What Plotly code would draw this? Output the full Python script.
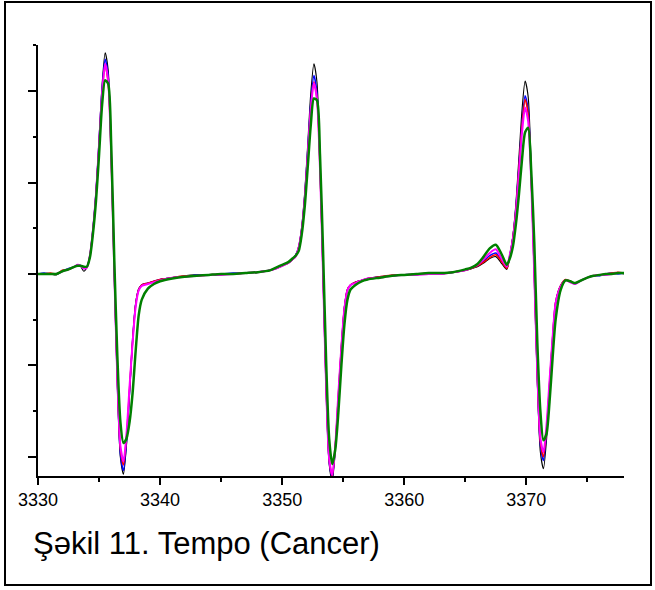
import plotly.graph_objects as go

# Magnetic field (G) sample positions
FIELD = [
    3330.0, 3330.5, 3331.0, 3331.5, 3332.0, 3332.5, 3333.0, 3333.25, 3333.5, 3333.75, 3334.0,
    3334.25, 3334.5, 3334.75, 3335.0, 3335.25, 3335.5, 3335.75, 3336.0, 3336.25, 3336.5, 3336.75, 3337.0, 3337.25, 3337.5, 3337.75, 3338.0, 3338.25, 3338.5,
    3339.0, 3339.5, 3340.0, 3341.0, 3342.0, 3343.0, 3344.0, 3345.0, 3346.0, 3347.0, 3348.0, 3349.0, 3349.5, 3350.0, 3350.5,
    3350.85, 3351.1, 3351.35, 3351.6, 3351.85, 3352.1, 3352.35, 3352.6, 3352.85, 3353.1, 3353.35, 3353.6, 3353.85, 3354.1, 3354.35, 3354.6, 3354.85, 3355.1, 3355.35, 3355.6,
    3356.0, 3356.5, 3357.0, 3358.0, 3359.0, 3360.0, 3361.0, 3362.0, 3363.0, 3364.0, 3365.0, 3365.5, 3366.0, 3366.5, 3367.0, 3367.5, 3368.0, 3368.4,
    3368.65, 3368.9, 3369.15, 3369.4, 3369.65, 3369.9, 3370.15, 3370.4, 3370.65, 3370.9, 3371.15, 3371.4, 3371.65, 3371.9, 3372.15, 3372.4,
    3372.8, 3373.2, 3373.6, 3374.0, 3374.5, 3375.0, 3375.5, 3376.0, 3376.5, 3377.0, 3377.5, 3378.0,
]

BLACK = [
    0.00, 0.00, 0.00, -0.01, 0.03, 0.05, 0.08, 0.10, 0.08, 0.03, 0.07,
    0.20, 0.50, 0.91, 1.48, 2.07, 2.42, 2.23, 1.35, 0.00, -1.21, -2.01, -2.19, -1.87, -1.31, -0.72, -0.32, -0.16, -0.12,
    -0.10, -0.08, -0.06, -0.04, -0.02, -0.01, -0.01, 0.00, 0.00, 0.01, 0.02, 0.04, 0.06, 0.09, 0.12,
    0.16, 0.21, 0.30, 0.52, 0.90, 1.43, 1.99, 2.30, 2.10, 1.27, 0.00, -1.26, -2.08, -2.27, -1.94, -1.36, -0.80, -0.36, -0.17, -0.12,
    -0.09, -0.07, -0.05, -0.03, -0.02, -0.01, 0.00, 0.01, 0.00, 0.02, 0.04, 0.06, 0.08, 0.12, 0.17, 0.19, 0.11, 0.05,
    0.20, 0.42, 0.78, 1.29, 1.80, 2.11, 1.94, 1.17, 0.00, -1.18, -1.95, -2.13, -1.82, -1.28, -0.74, -0.32,
    -0.13, -0.06, -0.08, -0.10, -0.07, -0.04, -0.02, -0.01, 0.00, 0.00, 0.01, 0.00,
]

BLUE = [
    0.00, 0.01, 0.00, 0.00, 0.03, 0.06, 0.08, 0.10, 0.09, 0.06, 0.07,
    0.20, 0.49, 0.89, 1.44, 2.02, 2.35, 2.16, 1.30, 0.02, -1.19, -1.97, -2.15, -1.83, -1.29, -0.72, -0.33, -0.17, -0.12,
    -0.10, -0.08, -0.06, -0.04, -0.03, -0.01, -0.01, 0.00, 0.01, 0.01, 0.02, 0.04, 0.06, 0.09, 0.12,
    0.16, 0.20, 0.29, 0.49, 0.85, 1.36, 1.88, 2.17, 1.98, 1.20, 0.00, -1.24, -2.05, -2.23, -1.90, -1.34, -0.80, -0.37, -0.17, -0.12,
    -0.09, -0.07, -0.05, -0.03, -0.02, -0.01, 0.00, 0.00, 0.01, 0.02, 0.04, 0.06, 0.09, 0.14, 0.20, 0.23, 0.14, 0.07,
    0.21, 0.40, 0.73, 1.19, 1.66, 1.95, 1.79, 1.08, 0.00, -1.13, -1.87, -2.04, -1.74, -1.22, -0.71, -0.31,
    -0.13, -0.07, -0.08, -0.11, -0.07, -0.04, -0.02, -0.02, 0.00, 0.01, 0.00, 0.01,
]

RED = [
    0.00, 0.00, 0.01, 0.00, 0.04, 0.05, 0.08, 0.09, 0.09, 0.07, 0.07,
    0.20, 0.47, 0.86, 1.40, 1.96, 2.28, 2.09, 1.27, 0.02, -1.16, -1.92, -2.09, -1.78, -1.25, -0.74, -0.34, -0.17, -0.12,
    -0.10, -0.08, -0.06, -0.04, -0.02, -0.02, -0.01, 0.00, 0.00, 0.01, 0.02, 0.04, 0.06, 0.09, 0.12,
    0.16, 0.19, 0.29, 0.48, 0.83, 1.31, 1.82, 2.10, 1.92, 1.16, 0.00, -1.23, -2.03, -2.21, -1.88, -1.33, -0.79, -0.37, -0.17, -0.12,
    -0.09, -0.07, -0.05, -0.03, -0.01, -0.01, 0.00, 0.01, 0.01, 0.02, 0.04, 0.06, 0.09, 0.13, 0.18, 0.21, 0.13, 0.06,
    0.20, 0.40, 0.71, 1.17, 1.63, 1.91, 1.75, 1.06, 0.00, -1.11, -1.84, -2.00, -1.71, -1.20, -0.70, -0.31,
    -0.13, -0.06, -0.08, -0.10, -0.07, -0.04, -0.02, -0.01, 0.00, 0.01, 0.02, 0.01,
]

MAGENTA = [
    0.00, 0.00, 0.00, 0.00, 0.03, 0.05, 0.08, 0.10, 0.09, 0.06, 0.07,
    0.20, 0.48, 0.87, 1.41, 1.97, 2.30, 2.11, 1.28, 0.03, -1.14, -1.88, -2.05, -1.75, -1.23, -0.75, -0.36, -0.18, -0.13,
    -0.11, -0.09, -0.07, -0.04, -0.03, -0.02, -0.01, -0.01, 0.00, 0.01, 0.02, 0.04, 0.06, 0.09, 0.12,
    0.16, 0.19, 0.29, 0.48, 0.82, 1.31, 1.81, 2.09, 1.91, 1.15, 0.00, -1.22, -2.02, -2.20, -1.88, -1.32, -0.80, -0.38, -0.18, -0.12,
    -0.10, -0.07, -0.05, -0.04, -0.02, -0.01, -0.01, 0.00, 0.00, 0.02, 0.04, 0.07, 0.10, 0.16, 0.23, 0.27, 0.16, 0.08,
    0.21, 0.38, 0.68, 1.11, 1.55, 1.82, 1.67, 1.01, 0.00, -1.08, -1.79, -1.95, -1.66, -1.17, -0.70, -0.32,
    -0.14, -0.07, -0.09, -0.11, -0.07, -0.04, -0.02, -0.01, -0.01, 0.00, 0.01, 0.01,
]

GREEN = [
    0.00, 0.00, 0.00, 0.00, 0.03, 0.05, 0.08, 0.09, 0.09, 0.08, 0.08,
    0.18, 0.44, 0.80, 1.30, 1.85, 2.12, 2.08, 1.40, 0.15, -0.90, -1.62, -1.85, -1.80, -1.62, -1.30, -0.84, -0.45, -0.28,
    -0.16, -0.11, -0.08, -0.05, -0.03, -0.02, -0.01, 0.00, 0.00, 0.01, 0.02, 0.04, 0.07, 0.10, 0.13,
    0.17, 0.20, 0.25, 0.43, 0.74, 1.18, 1.64, 1.92, 1.90, 1.30, 0.25, -0.95, -1.80, -2.08, -1.92, -1.52, -1.00, -0.55, -0.28, -0.17,
    -0.12, -0.08, -0.06, -0.04, -0.02, -0.01, 0.00, 0.01, 0.01, 0.02, 0.05, 0.07, 0.11, 0.19, 0.28, 0.32, 0.21, 0.10,
    0.17, 0.30, 0.55, 0.88, 1.26, 1.55, 1.60, 1.13, 0.35, -0.75, -1.50, -1.82, -1.75, -1.40, -0.92, -0.50,
    -0.18, -0.07, -0.08, -0.10, -0.07, -0.04, -0.02, -0.01, 0.00, 0.00, 0.01, 0.01,
]

X_TICKS = [3330, 3340, 3350, 3360, 3370]
X_TICK_LABELS = ["3330", "3340", "3350", "3360", "3370"]
CAPTION = "Şəkil 11. Tempo (Cancer)"

SERIES = [
    ("black", BLACK, "#000000", 1.1),
    ("blue", BLUE, "#0000FF", 1.5),
    ("red", RED, "#FF0000", 1.5),
    ("magenta", MAGENTA, "#FF00FF", 2.0),
    ("green", GREEN, "#008000", 2.5),
]

fig = go.Figure()
for name, ys, color, w in SERIES:
    assert len(ys) == len(FIELD), name
    fig.add_trace(go.Scatter(
        x=FIELD, y=ys, mode="lines", name=name,
        line=dict(color=color, width=w, shape="spline", smoothing=0.7),
        hoverinfo="skip",
    ))

FONT = "Arial, 'Liberation Sans', sans-serif"

fig.update_layout(
    width=655, height=590,
    margin=dict(l=38, r=31, t=45, b=114),
    paper_bgcolor="white", plot_bgcolor="white",
    showlegend=False,
    font=dict(family=FONT, color="black"),
    xaxis=dict(
        range=[3330, 3378], showgrid=False, zeroline=False,
        showline=True, linecolor="black", linewidth=1.5,
        tickmode="array", tickvals=X_TICKS, ticktext=X_TICK_LABELS,
        ticks="outside", ticklen=7, tickwidth=1.5, tickcolor="black",
        tickfont=dict(size=18, family=FONT, color="black"),
        minor=dict(tickvals=[3335, 3345, 3355, 3365, 3375], ticks="outside",
                   ticklen=4, tickwidth=1.5, tickcolor="black"),
    ),
    yaxis=dict(
        range=[-2.21, 2.505], showgrid=False, zeroline=False,
        showline=True, linecolor="black", linewidth=1.5,
        tickmode="array", tickvals=[-2, -1, 0, 1, 2],
        showticklabels=False,
        ticks="outside", ticklen=8, tickwidth=1.5, tickcolor="black",
        minor=dict(tickvals=[-1.5, -0.5, 0.5, 1.5, 2.5], ticks="outside",
                   ticklen=3, tickwidth=1.5, tickcolor="black"),
    ),
    shapes=[dict(
        type="rect", xref="paper", yref="paper",
        x0=(5 - 38) / 586, x1=(651 - 38) / 586,
        y0=(476 - 585) / 431, y1=(476 - 2) / 431,
        line=dict(color="black", width=2), fillcolor="rgba(0,0,0,0)",
        layer="above",
    )],
    annotations=[dict(
        text=CAPTION, xref="paper", yref="paper",
        x=(31 - 38) / 586, y=(476 - 543) / 431,
        xanchor="left", yanchor="middle", showarrow=False,
        font=dict(size=31, family=FONT, color="black"),
    )],
)

fig.write_html("out.html")
